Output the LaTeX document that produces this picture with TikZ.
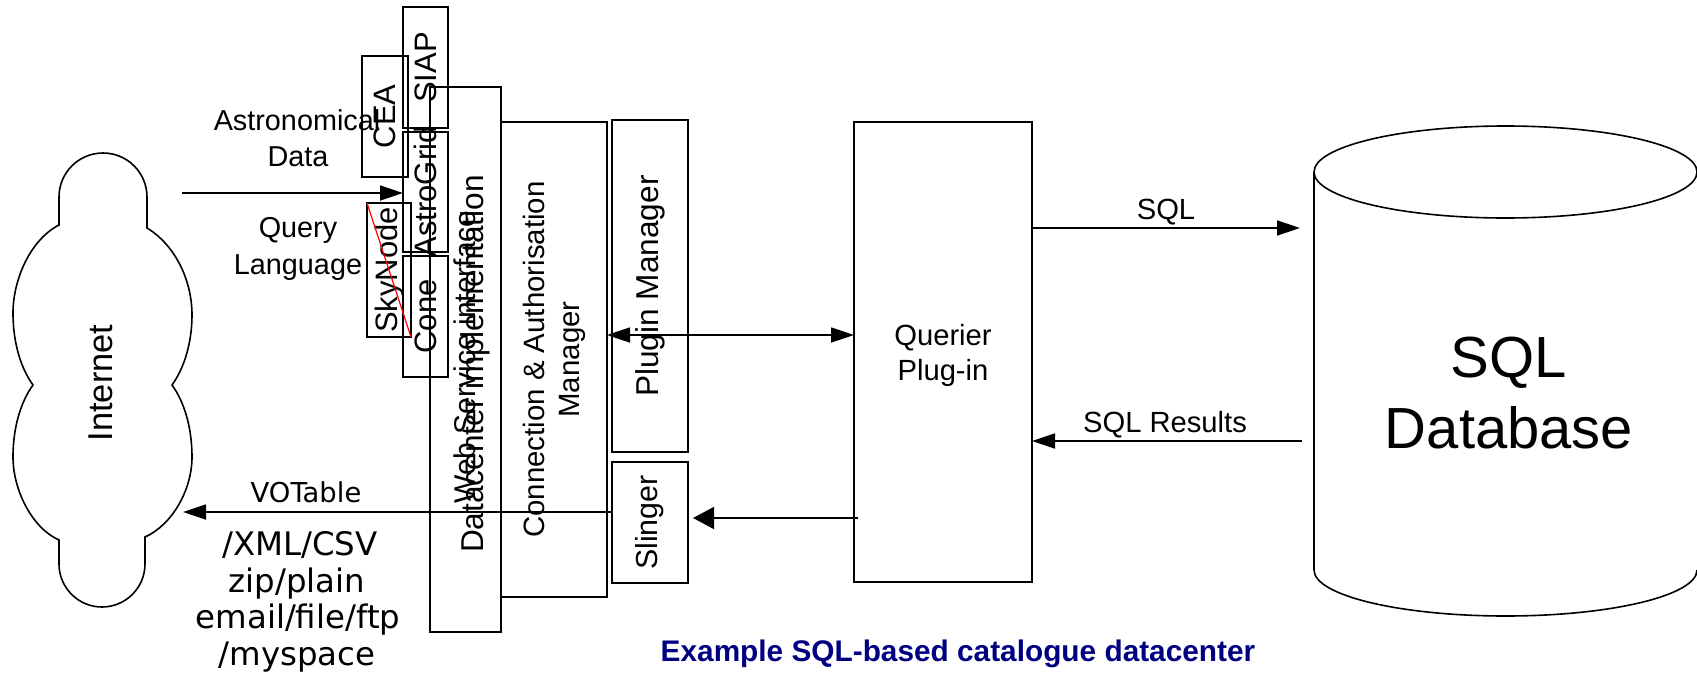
\documentclass[tikz,border=0pt]{standalone}
\usepackage{fontspec}
\setmainfont{Liberation Sans}
\newfontfamily\dejavu{DejaVu Sans}
\usetikzlibrary{arrows.meta}
\definecolor{navyblue}{RGB}{0,0,128}
\begin{document}
\begin{tikzpicture}[x=0.5pt,y=-0.5pt,
  bx/.style={draw,line width=0.9pt,inner sep=0pt,outer sep=0pt},
  txt/.style={inner sep=0pt,outer sep=0pt},
  bl/.style={txt,anchor=base},
  vt/.style={txt,rotate=90},
  arr/.style={line width=0.9pt,-{Triangle[length=11.5pt,width=7.5pt]}},
  arrbig/.style={line width=0.9pt,-{Triangle[length=10.5pt,width=11pt]}},
  arrboth/.style={line width=0.9pt,{Triangle[length=11.5pt,width=7.5pt]}-{Triangle[length=11.5pt,width=7.5pt]}},
  fa/.style={font=\fontsize{14.4}{18}\selectfont},
  fb/.style={font=\fontsize{15.5}{18}\selectfont},
  fc/.style={font=\fontsize{14.7}{17.5}\selectfont},
  fi/.style={font=\fontsize{17.2}{20}\selectfont},
  fv/.style={font=\dejavu\fontsize{13.7}{16}\selectfont},
  fw/.style={font=\dejavu\fontsize{16.2}{18.4}\selectfont},
  fdb/.style={font=\fontsize{29}{35.5}\selectfont},
  outl/.style={line width=0.8pt}
]
\useasboundingbox (0,0) rectangle (1697,680);

% Internet cloud
\draw[outl] (59,225) -- (59,197) .. controls (59,172.7) and (78.7,153) .. (103,153)
  .. controls (127.3,153) and (147,172.7) .. (147,197) -- (147,228)
  .. controls (175,245) and (192,280) .. (192,315)
  .. controls (192,345) and (183,370) .. (172,385)
  .. controls (183,400) and (192,425) .. (192,457)
  .. controls (192,490) and (172,525) .. (145,537) -- (145,564)
  .. controls (145,587.7) and (125.7,607) .. (102,607)
  .. controls (78.3,607) and (59,587.7) .. (59,564) -- (59,540)
  .. controls (32,528) and (13,490) .. (13,457)
  .. controls (13,425) and (22,400) .. (33,385)
  .. controls (22,370) and (13,345) .. (13,313)
  .. controls (13,280) and (30,240) .. (59,225) -- cycle;
\node[vt,anchor=base,fi] (inet) at (112,383) {Internet};

% SQL database cylinder
\draw[outl] (1505.5,172) ellipse [x radius=95.75pt, y radius=23pt];
\draw[outl] (1314,172) -- (1314,570)
  .. controls (1314,595.4) and (1399.7,616) .. (1505.5,616)
  .. controls (1611.3,616) and (1697,595.4) .. (1697,570);
\node[bl,fdb] (db1) at (1509,377) {SQL};
\node[bl,fdb] (db2) at (1509,448) {Database};

% boxes
\node[bx,minimum width=22.5pt,minimum height=60.5pt] (siap) at (425.5,67.5) {};
\node[bx,minimum width=23pt,minimum height=60.5pt] (cea) at (385,116.5) {};
\node[bx,minimum width=22.5pt,minimum height=60pt] (ag) at (425.5,192) {};
\node[bx,minimum width=22pt,minimum height=67pt] (sn) at (389,270) {};
\node[bx,minimum width=22.5pt,minimum height=60.5pt] (cone) at (425.5,316.5) {};
\node[bx,minimum width=35.5pt,minimum height=272.5pt] (dc) at (465.5,359.5) {};
\node[bx,minimum width=53pt,minimum height=237.5pt] (conn) at (554,359.5) {};
\node[bx,minimum width=38pt,minimum height=166pt] (pm) at (650,286) {};
\node[bx,minimum width=38pt,minimum height=60.5pt] (sl) at (650,522.5) {};
\node[bx,minimum width=89pt,minimum height=230pt] (qp) at (943,352) {};

% box labels
\node[vt,fb] (siapt) at (siap.center) {SIAP};
\node[vt,fb] (ceat) at (cea.center) {CEA};
\node[vt,fb] (agt) at (ag.center) {AstroGrid};
\node[vt,fb] (snt) at (sn.center) {SkyNode};
\node[vt,fb] (conet) at (cone.center) {Cone};
\draw[red,line width=0.6pt] (sn.north west) -- (sn.south east);
\node[vt,anchor=base,font=\fontsize{15}{18}\selectfont] (wsi) at (475,357) {Web Service interface};
\node[vt,anchor=base,font=\fontsize{15.8}{18}\selectfont] (dci) at (483,364) {Datacenter implementation};
\node[vt,fc,align=center] (connt) at (conn.center) {Connection \& Authorisation\\Manager};
\node[vt,font=\fontsize{15.8}{18}\selectfont] (pmt) at (pm.center) {Plugin Manager};
\node[vt,font=\fontsize{15.2}{18}\selectfont] (slt) at (sl.center) {Slinger};
\node[bl,font=\fontsize{14.6}{17.5}\selectfont] (qp1) at (943,345) {Querier};
\node[bl,font=\fontsize{14.6}{17.5}\selectfont] (qp2) at (943,380) {Plug-in};

% side labels
\node[bl,fa] (ad1) at (297,130) {Astronomical};
\node[bl,fa] (ad2) at (298,166) {Data};
\node[bl,fa] (ql1) at (298,237) {Query};
\node[bl,fa] (ql2) at (298,274) {Language};
\node[bl,fv] (vot) at (306,502) {VOTable};
\node[bl,fw] (f1) at (300,555) {/XML/CSV};
\node[bl,fw] (f2) at (297,592) {zip/plain};
\node[bl,fw] (f3) at (298,628) {email/file/ftp};
\node[bl,fw] (f4) at (297,665) {/myspace};
\node[bl,font=\fontsize{14.6}{17.5}\selectfont] (sqll) at (1166,219) {SQL};
\node[bl,font=\fontsize{14.6}{17.5}\selectfont] (sqlr) at (1165,432) {SQL Results};

% connectors
\coordinate (inS) at (182,193);
\coordinate (vo) at (183,512);
\coordinate (bd) at (700,335);
\coordinate (sqE) at (1300,228);
\coordinate (srS) at (1302,441);
\coordinate (slA) at (858,518);
\draw[arr] (inS) -- (inS -| ag.west);
\draw[arr] (vo -| sl.west) -- (vo);
\draw[arrboth] (bd -| conn.east) -- (bd -| qp.west);
\draw[arr] (sqE -| qp.east) -- (sqE);
\draw[arr] (srS) -- (srS -| qp.east);
\draw[arrbig] (slA) -- ([xshift=2.5pt]slA -| sl.east);

% title
\node[bl,font=\fontsize{14.9}{17}\selectfont\bfseries,text=navyblue] (title) at (958,661) {Example SQL-based catalogue datacenter};
\end{tikzpicture}
\end{document}
